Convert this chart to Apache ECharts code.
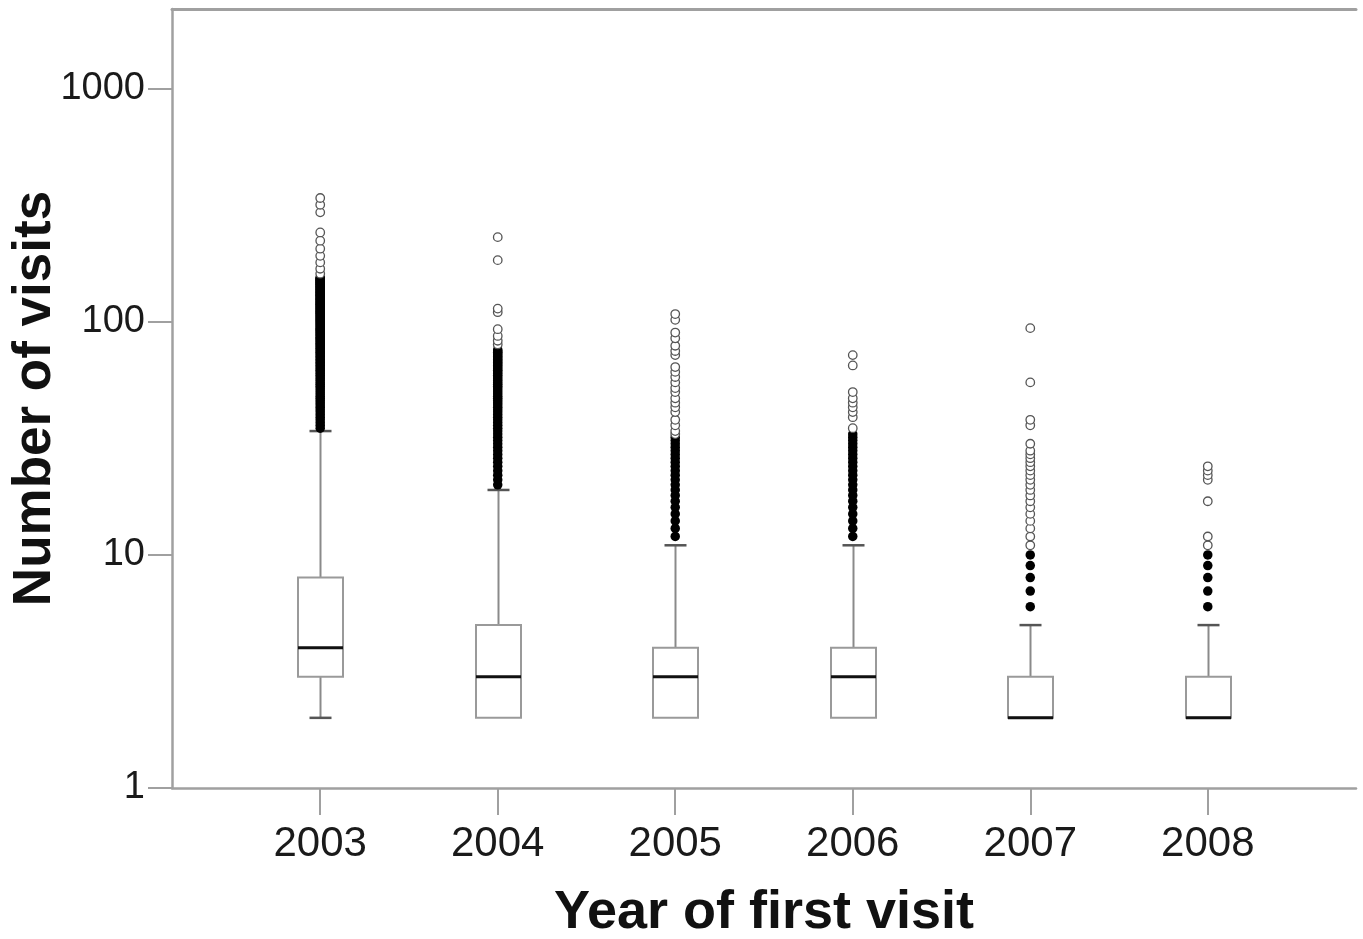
<!DOCTYPE html>
<html>
<head>
<meta charset="utf-8">
<script src="https://cdn.jsdelivr.net/npm/echarts@6/dist/echarts.min.js"></script>
<style>
html,body{margin:0;padding:0;background:#fff;}
#chart{width:1363px;height:939px;}
</style>
</head>
<body>
<div id="chart"></div>
<script>
// ---- data ----
const years = [2003, 2004, 2005, 2006, 2007, 2008];
const yTickValues = [1, 10, 100, 1000];
// [min, Q1, median, Q3, max (whisker)]
const box2003 = [2, 3, 4, 8, 34];
const box2004 = [2, 2, 3, 5, 19];
const box2005 = [2, 2, 3, 4, 11];
const box2006 = [2, 2, 3, 4, 11];
const box2007 = [2, 2, 2, 3, 5];
const box2008 = [2, 2, 2, 3, 5];

// dense (overlapping) outliers, drawn filled
const dense2003 = [35,36,37,38,39,40,41,42,43,44,45,46,47,48,49,50,51,52,53,54,55,56,57,58,59,60,61,62,63,64,65,66,67,68,69,70,71,72,73,74,75,76,77,78,79,80,81,82,83,84,85,86,87,88,89,90,91,92,93,94,95,96,97,98,99,100,101,102,103,104,105,106,107,108,109,110,111,112,113,114,115,116,117,118,119,120,121,122,123,124,125,126,127,128,129,130,131,132,133,134,135,136,137,138,139,140,141,142,143,144,145,146,147,148,149,150,151,152,153,154,155];
const dense2004 = [20,21,22,23,24,25,26,27,28,29,30,31,32,33,34,35,36,37,38,39,40,41,42,43,44,45,46,47,48,49,50,51,52,53,54,55,56,57,58,59,60,61,62,63,64,65,66,67,68,69,70,71,72,73,74,75,76];
const dense2005 = [12,13,14,15,16,17,18,19,20,21,22,23,24,25,26,27,28,29,30,31,32];
const dense2006 = [12,13,14,15,16,17,18,19,20,21,22,23,24,25,26,27,28,29,30,31,32,33];
const dense2007 = [6,7,8,9,10];
const dense2008 = [6,7,8,9,10];

// single outliers, drawn as open circles
const open2003 = [161,169,180,192,206,223,242,295,318,340];
const open2004 = [80,83,87,93,110,114,184,231];
const open2005 = [33,34,36,38,41,43,45,47,50,52,55,58,61,64,72,75,79,85,90,102,108];
const open2006 = [35,39,41,43,45,47,50,65,72];
const open2007 = [11,12,13,14,15,16,17,18,19,20,21,22,23,24,25,26,27,28,30,36,38,55,94];
const open2008 = [11,12,17,21,22,23,24];

// ---- build ----
const boxes = [box2003, box2004, box2005, box2006, box2007, box2008];
const denses = [dense2003, dense2004, dense2005, dense2006, dense2007, dense2008];
const opens = [open2003, open2004, open2005, open2006, open2007, open2008];

const boxData = years.map((yr, i) => [yr].concat(boxes[i]));
const denseData = [];
const openData = [];
years.forEach((yr, i) => {
  denses[i].forEach(v => denseData.push([yr, v]));
  opens[i].forEach(v => openData.push([yr, v]));
});

const FONT = '"Liberation Sans", Arial, Helvetica, sans-serif';
const axisColor = '#a0a0a0';

function renderBox(params, api) {
  const x = api.value(0);
  const mn = api.value(1), q1 = api.value(2), med = api.value(3), q3 = api.value(4), mx = api.value(5);
  const px = Math.round(api.coord([x, med])[0]) + 0.5;
  const y = v => api.coord([x, v])[1];
  const hw = 22.5, cw = 11;
  const ch = [];
  ch.push({type:'line', shape:{x1:px, y1:y(q3), x2:px, y2:y(mx)}, style:{stroke:'#8a8a8a', lineWidth:2}});
  ch.push({type:'line', shape:{x1:px-cw, y1:y(mx), x2:px+cw, y2:y(mx)}, style:{stroke:'#555', lineWidth:2.5}});
  if (mn < q1) {
    ch.push({type:'line', shape:{x1:px, y1:y(q1), x2:px, y2:y(mn)}, style:{stroke:'#8a8a8a', lineWidth:2}});
    ch.push({type:'line', shape:{x1:px-cw, y1:y(mn), x2:px+cw, y2:y(mn)}, style:{stroke:'#555', lineWidth:2.5}});
  }
  ch.push({type:'rect', shape:{x:px-hw, y:y(q3), width:2*hw, height:y(q1)-y(q3)}, style:{fill:'#fff', stroke:'#9a9a9a', lineWidth:2}});
  ch.push({type:'line', shape:{x1:px-hw, y1:y(med), x2:px+hw, y2:y(med)}, style:{stroke:'#111', lineWidth:3}});
  return {type:'group', children: ch};
}

const chart = echarts.init(document.getElementById('chart'), null, {renderer:'canvas'});
chart.setOption({
  animation: false,
  backgroundColor: '#fff',
  grid: {left:172, right:7, top:9, bottom:151, containLabel:false, outerBoundsMode:'none'},
  xAxis: [{
    type: 'value', min: 2002.165, max: 2008.835, position: 'bottom',
    axisLine: {show:true, onZero:false, lineStyle:{color:axisColor, width:2.5}},
    axisTick: {show:true, customValues: years, length:27, lineStyle:{color:axisColor, width:2}},
    axisLabel: {customValues: years, formatter: v => String(Math.round(v)), fontSize:42, fontFamily:FONT, color:'#1a1a1a', margin:35},
    splitLine: {show:false},
    name: 'Year of first visit', nameLocation:'middle', nameGap:98, nameMoveOverlap:false,
    nameTextStyle: {fontSize:54, fontWeight:'bold', fontFamily:FONT, color:'#111'}
  }, {
    type: 'value', min: 2002.165, max: 2008.835, position: 'top',
    axisLine: {show:true, onZero:false, lineStyle:{color:axisColor, width:3}},
    axisTick: {show:false}, axisLabel: {show:false}, splitLine: {show:false}
  }],
  yAxis: {
    type: 'log', logBase: 10, min: 1, max: 2200,
    axisLine: {show:true, onZero:false, lineStyle:{color:axisColor, width:2.5}},
    axisTick: {show:true, customValues: yTickValues, length:24, lineStyle:{color:axisColor, width:2}},
    axisLabel: {customValues: yTickValues, formatter: v => String(Math.round(v)), fontSize:38, fontFamily:FONT, color:'#1a1a1a', margin:27},
    splitLine: {show:false},
    name: 'Number of visits', nameLocation:'middle', nameGap:110, nameRotate:90, nameMoveOverlap:false,
    nameTextStyle: {fontSize:53, fontWeight:'bold', fontFamily:FONT, color:'#111'}
  },
  series: [{
    type: 'custom', renderItem: renderBox, data: boxData,
    encode: {x:0, y:[1,2,3,4,5]}, z: 2
  }, {
    type: 'scatter', data: denseData, symbol:'circle', symbolSize: 9.5,
    itemStyle: {color:'#000', borderColor:'#000', borderWidth:0, opacity:1}, z: 3
  }, {
    type: 'scatter', data: openData, symbol:'circle', symbolSize: 8.5,
    itemStyle: {color:'#fff', borderColor:'#555', borderWidth:1.3, opacity:1}, z: 4
  }]
});
</script>
</body>
</html>
